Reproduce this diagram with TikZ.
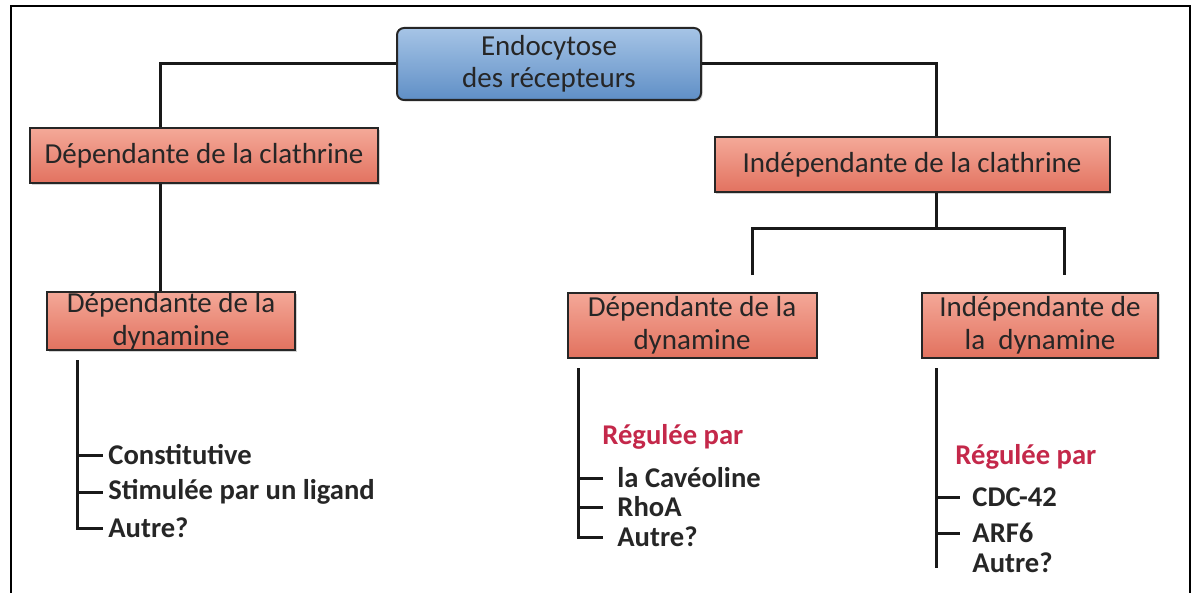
\documentclass[tikz,border=0pt]{standalone}
\usepackage{fontspec}
\setmainfont{Carlito}
\usetikzlibrary{positioning,shadows}
\definecolor{salmonTop}{HTML}{F4A898}
\definecolor{salmonBot}{HTML}{E2725F}
\definecolor{blueTop}{HTML}{A6C4E6}
\definecolor{blueBot}{HTML}{5F8FC6}
\definecolor{regred}{HTML}{C4284A}
\tikzset{
  box/.style={draw=black!85, line width=1pt, top color=salmonTop, bottom color=salmonBot,
    text=black!85, align=center, inner sep=0pt, font=\fontsize{14.5}{16.5}\selectfont,
    drop shadow={opacity=0.35,shadow xshift=0.8pt,shadow yshift=-0.8pt}},
  topbox/.style={box, rounded corners=3.5pt, top color=blueTop, bottom color=blueBot,
    font=\fontsize{14.5}{16}\selectfont},
  item/.style={anchor=west, inner sep=0pt, font=\fontsize{14.3}{15}\selectfont\bfseries, text=black!85},
  tree/.style={line width=1.5pt, black!90},
}
\begin{document}
\begin{tikzpicture}[x=0.5pt,y=-0.5pt]
\useasboundingbox (0,0) rectangle (1192,593);
%%Frame
\draw[line width=1.2pt] (11,593) -- (11,6) -- (1190,6) -- (1190,593);
%%First place the nodes
\node[topbox, minimum width=152pt, minimum height=36pt] (top) at (549,64) {Endocytose\\des récepteurs};
\node[box, minimum width=174pt, minimum height=27.5pt] (clL) at (204,156) {Dépendante de la clathrine};
\node[box, minimum width=197.5pt, minimum height=27.5pt] (clR) at (912,165) {Indépendante de la clathrine};
\node[box, minimum width=124pt, minimum height=29pt] (dynL) at (171,321) {Dépendante de la\\dynamine};
\node[box, minimum width=124.5pt, minimum height=32.5pt] (dynM) at (692,325) {Dépendante de la\\dynamine};
\node[box, minimum width=118pt, minimum height=32.5pt] (dynR) at (1040,325) {Indépendante de\\la\ \ dynamine};
%%Branching points
\coordinate (jL) at (160,64);
\coordinate (jR) at (936,64);
\coordinate (jC) at (936,228);
\coordinate (bM) at (752,228);
\coordinate (bR) at (1064,228);
%%Draw the tree
\draw[tree] (top.west) -- (jL) -- (jL |- clL.north);
\draw[tree] (jL |- clL.south) -- (jL |- dynL.north);
\draw[tree] (top.east) -- (jR) -- (jR |- clR.north);
\draw[tree] (jC |- clR.south) -- (jC);
\draw[tree] (bM |- 0,275) -- (bM) -- (bR) -- (bR |- 0,275);
%%Left list
\node[item] (l1) at (108,455) {Constitutive};
\node[item] (l2) at (108,492) {Stimulée par un ligand};
\node[item] (l3) at (108,528) {Autre?};
\coordinate (lT) at (77,360);
\draw[tree] (lT) -- (lT |- l3.west) -- ([xshift=-2.5pt]l3.west);
\foreach \n in {l1,l2} \draw[tree] (lT |- \n.west) -- ([xshift=-2.5pt]\n.west);
%%Middle list
\node[item, text=regred] (mR) at (602,437) {Régulée par};
\node[item] (m1) at (617,478) {la Cavéoline};
\node[item] (m2) at (617,507) {RhoA};
\node[item] (m3) at (617,537) {Autre?};
\coordinate (mT) at (578,368);
\draw[tree] (mT) -- (mT |- m3.west) -- ([xshift=-7pt]m3.west);
\foreach \n in {m1,m2} \draw[tree] (mT |- \n.west) -- ([xshift=-7pt]\n.west);
%%Right list
\node[item, text=regred] (rR) at (955,457) {Régulée par};
\node[item] (r1) at (972,497) {CDC-42};
\node[item] (r2) at (972,533) {ARF6};
\node[item] (r3) at (972,563) {Autre?};
\coordinate (rT) at (936,368);
\draw[tree] (rT) -- (rT |- 0,568);
\foreach \n in {r1,r2} \draw[tree] (rT |- \n.west) -- ([xshift=-6pt]\n.west);
\end{tikzpicture}
\end{document}
